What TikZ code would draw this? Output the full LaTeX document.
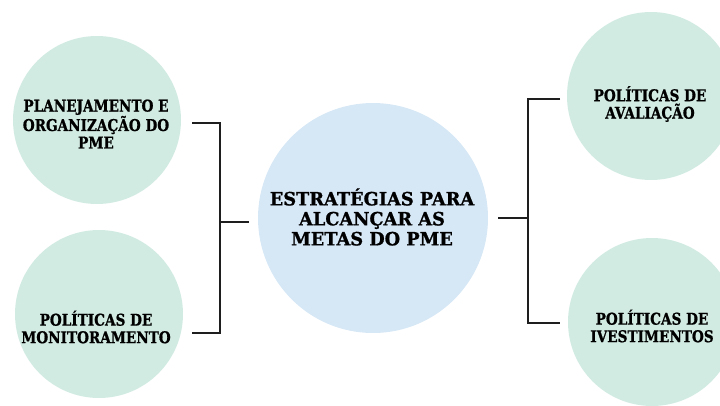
\documentclass[tikz,border=0pt]{standalone}
\usepackage{fontspec}
\newfontfamily\slabfont[FakeStretch=0.84,BoldFeatures={FakeBold=1}]{DejaVu Serif}
\newfontfamily\slabwide[FakeStretch=0.97,BoldFeatures={FakeBold=1}]{DejaVu Serif}
\usepackage{tikz}
\usetikzlibrary{positioning}
\usetikzlibrary{calc}
\definecolor{mint}{HTML}{D2EBE2}
\definecolor{skyblue}{HTML}{D6E7F5}
\definecolor{inkline}{HTML}{1E1E1E}
\tikzstyle{sidecircle}=[circle,fill=mint,minimum size=168pt,inner sep=0pt]
\tikzstyle{maincircle}=[circle,fill=skyblue,minimum size=230pt,inner sep=0pt]
\tikzstyle{sidelabel}=[align=center,font=\slabfont\bfseries\fontsize{16.2}{17.5}\selectfont,inner sep=0pt]
\tikzstyle{mainlabel}=[align=center,font=\slabwide\bfseries\fontsize{18.3}{20}\selectfont,inner sep=0pt]
\tikzstyle{bracket}=[draw=inkline,line width=1.5pt]

\begin{document}
\begin{tikzpicture}[x=1pt,y=-1pt]
    \clip (0,0) rectangle (720,405);
    % First we draw the circles
    \node[maincircle] (meta) at (373,218) {};
    \foreach \pos/\name in {{(97,120)/plan}, {(99,314)/monit}, {(651,96)/aval}, {(652,322)/invest}}
        \node[sidecircle] (\name) at \pos {};

    % Then the texts inside them
    \node[mainlabel] (meta-t) at (372,217) {ESTRATÉGIAS PARA\\ALCANÇAR AS\\METAS DO PME};
    \foreach \pos/\name/\text in {{(96,124)/plan-t/{PLANEJAMENTO E\\ORGANIZAÇÃO DO\\PME}},
                                  {(96,327)/monit-t/{POLÍTICAS DE\\MONITORAMENTO}},
                                  {(650,104)/aval-t/{POLÍTICAS DE\\AVALIAÇÃO}},
                                  {(652,326)/invest-t/{POLÍTICAS DE\\IVESTIMENTOS}}}
        \node[sidelabel] (\name) at \pos {\text};

    % Bracket ends
    \coordinate (lt) at (192,123);
    \coordinate (lb) at (192,333);
    \coordinate (lm) at (249,222);
    \coordinate (rt) at (560,99);
    \coordinate (rb) at (560,323);
    \coordinate (rm) at (498,218);

    % Connect with brackets
    \path[bracket] (lt) -- ($(lt)+(28,0)$) -- ($(lb)+(28,0)$) -- (lb);
    \path[bracket] ($(lm)+(-29,0)$) -- (lm);
    \path[bracket] (rt) -- ($(rt)+(-32,0)$) -- ($(rb)+(-32,0)$) -- (rb);
    \path[bracket] (rm) -- ($(rm)+(30,0)$);
\end{tikzpicture}
\end{document}
